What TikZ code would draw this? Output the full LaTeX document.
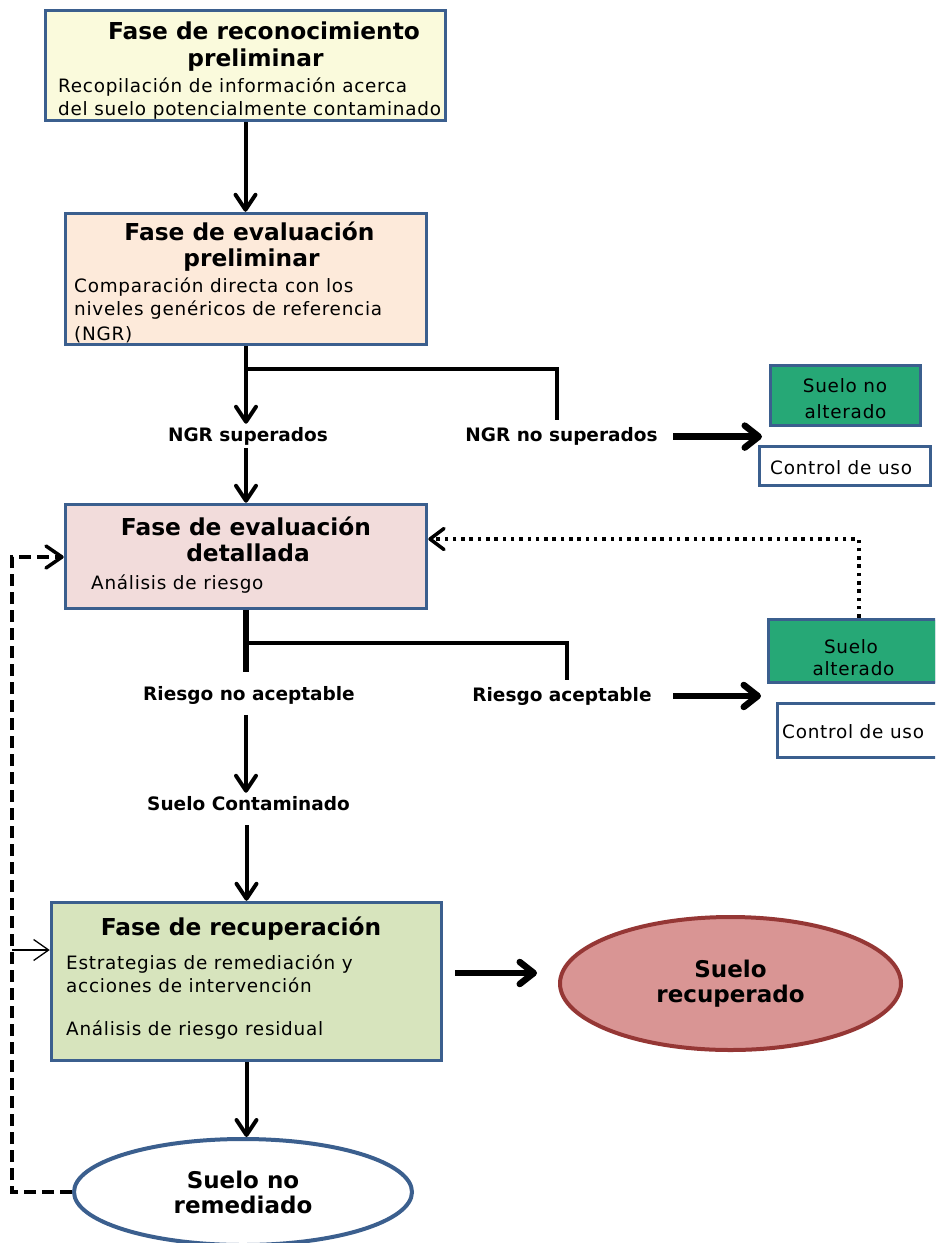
\documentclass[tikz,border=0pt]{standalone}
\usepackage{fontspec}
\setmainfont{DejaVu Sans}
\newfontfamily\bodyfont[LetterSpace=4]{DejaVu Sans}
\usetikzlibrary{arrows.meta,shapes.geometric,calc}
\definecolor{bord}{HTML}{3B5F8E}
\definecolor{cA}{HTML}{FAFADC}
\definecolor{cB}{HTML}{FDEADA}
\definecolor{cC}{HTML}{F2DCDB}
\definecolor{cD}{HTML}{D7E4BD}
\definecolor{grn}{HTML}{26A876}
\definecolor{redf}{HTML}{D99594}
\definecolor{redb}{HTML}{953735}
\tikzset{
  box/.style={draw=bord, line width=3.5pt, rectangle, inner sep=0pt},
  ell/.style={ellipse, line width=4pt, inner sep=0pt, align=center,
    font=\fontsize{23}{25}\selectfont\bfseries},
  ttl/.style={font=\fontsize{23.3}{27}\selectfont\bfseries, anchor=base, inner sep=0pt},
  bodyl/.style={font=\bodyfont\fontsize{18.4}{22}\selectfont, anchor=base west, inner sep=0pt},
  bodyc/.style={font=\bodyfont\fontsize{18.4}{22}\selectfont, anchor=base, inner sep=0pt},
  lbl/.style={font=\fontsize{18.5}{22}\selectfont\bfseries, anchor=base, inner xsep=2pt, inner ysep=3pt},
  ln/.style={line width=4pt},
  arr/.style={line width=4pt, -{Straight Barb[length=15pt,width=20pt,round]}},
  thk/.style={line width=6.5pt},
  thkarr/.style={line width=6.5pt, -{Straight Barb[length=14pt,width=22pt,round]}},
  dotarr/.style={line width=3.5pt, dash pattern=on 3.5pt off 4.8pt, -{Straight Barb[length=14pt,width=21pt,round]}},
  dasharr/.style={line width=3.5pt, dash pattern=on 12pt off 6pt, -{Straight Barb[length=16pt,width=22pt,round]}},
  thinarr/.style={line width=1.3pt, -{Straight Barb[length=15pt,width=21pt]}},
}
\begin{document}
\begin{tikzpicture}[x=1pt,y=-1pt]
\useasboundingbox (0,0) rectangle (935,1243);
\clip (0,0) rectangle (935,1243);

% boxes
\node[box, fill=cA, minimum width=400pt, minimum height=110pt] (b1) at (245.5,65.5) {};
\node[box, fill=cB, minimum width=361pt, minimum height=131pt] (b2) at (246,279) {};
\node[box, fill=cC, minimum width=361pt, minimum height=104pt] (b3) at (246,556.5) {};
\node[box, fill=cD, minimum width=390pt, minimum height=158pt] (b4) at (246.5,981.5) {};
\node[box, fill=grn, minimum width=150pt, minimum height=60pt] (sna) at (845.5,395.5) {};
\node[box, fill=white, minimum width=171pt, minimum height=39pt] (cu1) at (845,466) {};
\node[box, fill=grn, minimum width=168pt, minimum height=63pt] (sa) at (852.5,651) {};
\node[box, fill=white, minimum width=175pt, minimum height=54pt] (cu2) at (865,730.5) {};

% ellipses
\node[ell, draw=redb, fill=redf, minimum width=341pt, minimum height=133pt] (sr) at (730.5,983.5) {Suelo\\recuperado};
\node[ell, draw=bord, fill=white, minimum width=338pt, minimum height=106pt] (nr) at (243,1192) {Suelo no\\remediado};

% texts box 1
\node[ttl] (t1a) at (264,39.3) {Fase de reconocimiento};
\node[ttl] (t1b) at (255.5,66.7) {preliminar};
\node[bodyl] (t1c) at (58,92.7) {Recopilación de información acerca};
\node[bodyl] (t1d) at (58,115) {del suelo potencialmente contaminado};
% box 2
\node[ttl] (t2a) at (249.5,240.7) {Fase de evaluación};
\node[ttl] (t2b) at (251.5,266.7) {preliminar};
\node[bodyl] (t2c) at (74,292) {Comparación directa con los};
\node[bodyl] (t2d) at (74,315.7) {niveles genéricos de referencia};
\node[bodyl] (t2e) at (74,340.7) {(NGR)};
% box 3
\node[ttl] (t3a) at (246,535.7) {Fase de evaluación};
\node[ttl] (t3b) at (248,561) {detallada};
\node[bodyl] (t3c) at (91,589) {Análisis de riesgo};
% box 4
\node[ttl] (t4a) at (241,935) {Fase de recuperación};
\node[bodyl] (t4b) at (66,969.3) {Estrategias de remediación y};
\node[bodyl] (t4c) at (66,992.7) {acciones de intervención};
\node[bodyl] (t4d) at (66,1035) {Análisis de riesgo residual};
% side boxes
\node[bodyc] (s1a) at (845,392) {Suelo no};
\node[bodyc] (s1b) at (845.5,418) {alterado};
\node[bodyl] (s1c) at (770,474.3) {Control de uso};
\node[bodyc] (s2a) at (851,653) {Suelo};
\node[bodyc] (s2b) at (853.5,675) {alterado};
\node[bodyl] (s2c) at (782,738) {Control de uso};

% labels
\node[lbl] (ngrs) at (248,441) {NGR superados};
\node[lbl] (ngrn) at (561.5,441.7) {NGR no superados};
\node[lbl] (rna) at (249,700.7) {Riesgo no aceptable};
\node[lbl] (ra) at (562,701) {Riesgo aceptable};
\node[lbl] (sc) at (248.5,810) {Suelo Contaminado};

% coordinates
\coordinate (j1) at (246,369);
\coordinate (j1e) at (557,420);
\coordinate (j2) at (246,643);
\coordinate (j2e) at (567,680);
\coordinate (g1s) at (673,437);
\coordinate (g1) at (762,437);
\coordinate (g2s) at (673,696);
\coordinate (g2) at (761,696);
\coordinate (dc) at (859,539);
\coordinate (dl) at (12,557);
\coordinate (tl) at (12,950);
\coordinate (r1) at (455,973);

% connectors
\draw[arr] (b1.south) -- (b1.south |- b2.north);
\draw[arr] (b2.south) -- (b2.south |- ngrs.north);
\draw[ln] (j1) -| (j1e);
\draw[arr] (ngrs.south -| b3.north) -- (b3.north);
\draw[thkarr] (ngrn.east -| g1s) -- (ngrn.east -| g1);

\draw[thk, shorten >=11pt] (b3.south) -- (b3.south |- rna.north);
\draw[ln] (j2) -| (j2e);
\draw[thkarr] (ra.east -| g2s) -- (ra.east -| g2);
\draw[arr, shorten <=7pt] (rna.south -| b3.south) -- (sc.north -| b3.south);
\draw[arr, shorten <=12pt] (sc.south -| b4.north) -- (b4.north);

\draw[dotarr] (sa.north -| dc) -- (dc) -- (b3.east |- dc);
\draw[dasharr] (nr.west) -| (dl) -- (b3.west |- dl);
\draw[thinarr] (tl) -- (b4.west |- tl);

\draw[arr] (b4.south) -- (b4.south |- nr.north);
\draw[thkarr, shorten >=21pt] (r1) -- (sr.west |- r1);
\end{tikzpicture}
\end{document}
